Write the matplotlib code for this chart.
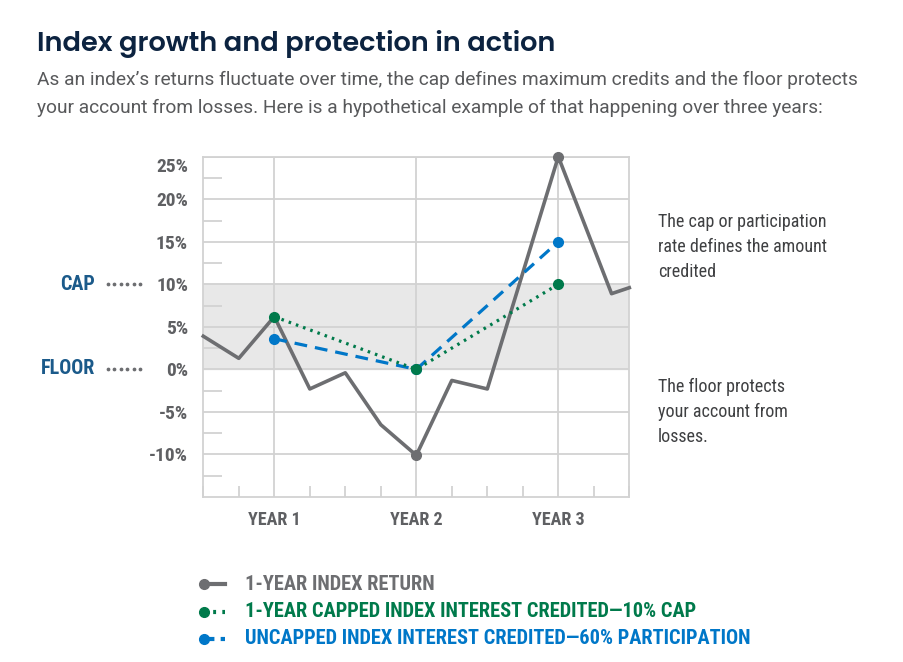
import matplotlib
matplotlib.use('Agg')
import matplotlib.pyplot as plt
from matplotlib.ticker import MultipleLocator, FixedLocator
from matplotlib.transforms import ScaledTranslation

# data
index_x = [0.5, 0.75, 1.0, 1.25, 1.5, 1.75, 2.0, 2.25, 2.5, 3.0, 3.375, 3.5]
index_ret = [3.9, 1.3, 6.2, -2.3, -0.4, -6.5, -10.1, -1.3, -2.3, 25.0, 8.9, 9.6]
year_x = [1, 2, 3]
year_labels = ['YEAR 1', 'YEAR 2', 'YEAR 3']
capped = [6.2, 0.0, 10.0]
uncapped = [3.6, 0.0, 15.0]
y_ticks = [25, 20, 15, 10, 5, 0, -5, -10]
cap, floor = 10, 0

GRAY = '#6d6e71'
GREEN = '#007a4b'
BLUE = '#0077c8'
NAVY = '#0c2340'
LABEL = '#1b5a8a'
GRID = '#d2d2d2'
COND = ['Roboto Condensed', 'DejaVu Sans']

W, H = 904, 662
fig = plt.figure(figsize=(W / 100, H / 100), dpi=100)

def px(x, y):
    return x / W, 1 - y / H

ax = fig.add_axes([203.3 / W, 1 - 497 / H, 426 / W, 340.3 / H])
ax.set_xlim(0.5, 3.5)
ax.set_ylim(-15, 25)

ax.axhspan(floor, cap, color='#e8e8e8', zorder=0)
for v in y_ticks:
    ax.axhline(v, color=GRID, lw=1.3, zorder=1)
for v in year_x:
    ax.axvline(v, color=GRID, lw=1.3, zorder=1)
for s in ax.spines.values():
    s.set_color(GRID)
    s.set_linewidth(1.3)

ax.yaxis.set_major_locator(FixedLocator(y_ticks))
ax.yaxis.set_minor_locator(FixedLocator([v - 2.5 for v in y_ticks]))
ax.set_yticklabels([f'{v}%' for v in y_ticks])
ax.xaxis.set_major_locator(FixedLocator(year_x))
ax.xaxis.set_minor_locator(MultipleLocator(0.25))
ax.set_xticklabels(year_labels)
ax.tick_params(axis='y', which='major', length=0, pad=11, labelsize=14,
               labelcolor='#5f6063')
ax.tick_params(axis='x', which='major', length=0, pad=10, labelsize=13,
               labelcolor='#5f6063')
ax.tick_params(axis='y', which='minor', direction='in', length=14, width=1.3, color=GRID)
ax.tick_params(axis='x', which='minor', direction='in', length=8, width=1.3, color=GRID)
for lab in ax.get_xticklabels() + ax.get_yticklabels():
    lab.set_fontweight('bold')
    lab.set_family(COND)
# top label sits a little below its gridline in the original
top_lab = ax.get_yticklabels()[0]
top_lab.set_transform(top_lab.get_transform() + ScaledTranslation(0, -6 / 72, fig.dpi_scale_trans))

ax.plot(index_x, index_ret, color=GRAY, lw=2.6, zorder=3, clip_on=False)
ax.plot([year_x[1], year_x[2]], [index_ret[6], index_ret[9]], 'o', color=GRAY,
        ms=7, zorder=4, clip_on=False)
ax.plot(year_x, uncapped, color=BLUE, lw=2.3, ls=(0, (4, 2.5)), zorder=5)
ax.plot(year_x, uncapped, 'o', color=BLUE, ms=7, zorder=5)
ax.plot(year_x, capped, color=GREEN, lw=2.3, ls=(0, (0.8, 1.6)), zorder=6)
ax.plot(year_x, capped, 'o', color=GREEN, ms=7, zorder=6)

# titles
fig.text(*px(37, 51), 'Index growth and protection in action', fontsize=19.6,
         fontweight='semibold', color=NAVY, family=['Poppins', 'Lato', 'DejaVu Sans'])
fig.text(*px(37, 85), 'As an index\u2019s returns fluctuate over time, the cap defines maximum credits and the floor protects',
         fontsize=13.8, color='#58595b', family=['Roboto', 'DejaVu Sans'])
fig.text(*px(37, 113), 'your account from losses. Here is a hypothetical example of that happening over three years:',
         fontsize=13.8, color='#58595b', family=['Roboto', 'DejaVu Sans'])

# cap / floor labels with dotted leaders
for lab, yy in (('CAP', 284), ('FLOOR', 369)):
    fig.text(*px(95, yy), lab, ha='right', va='center', fontsize=14.5, fontweight='bold',
             color=LABEL, family=COND)
    dots = [px(108 + k * 6.4, yy) for k in range(6)]
    fig.add_artist(plt.Line2D([d[0] for d in dots], [d[1] for d in dots], ls='none',
                              marker='o', ms=1.7, color=GRAY, transform=fig.transFigure))

# annotations
fig.text(*px(658, 213), 'The cap or participation\nrate defines the amount\ncredited',
         va='top', fontsize=13, color='#3f4042', family=COND, linespacing=1.5)
fig.text(*px(658, 378), 'The floor protects\nyour account from\nlosses.',
         va='top', fontsize=13, color='#3f4042', family=COND, linespacing=1.5)

# legend
legend_rows = [
    ('1-YEAR INDEX RETURN', GRAY, '-'),
    ('1-YEAR CAPPED INDEX INTEREST CREDITED\u201410% CAP', GREEN, (0, (0.7, 1.5))),
    ('UNCAPPED INDEX INTEREST CREDITED\u201460% PARTICIPATION', BLUE, (0, (2.5, 1.5))),
]
for i, (txt, col, ls) in enumerate(legend_rows):
    yy = 584 + i * 27.5
    x0, y0 = px(204, yy)
    x1, _ = px(225, yy)
    fig.add_artist(plt.Line2D([x0, x1], [y0, y0], color=col, lw=3, ls=ls,
                              transform=fig.transFigure))
    fig.add_artist(plt.Line2D([x0], [y0], marker='o', ms=7, color=col, transform=fig.transFigure))
    fig.text(*px(245, yy), txt, va='center', fontsize=14.7, fontweight='bold', color=col,
             family=COND)

fig.savefig('out.png', dpi=100)
